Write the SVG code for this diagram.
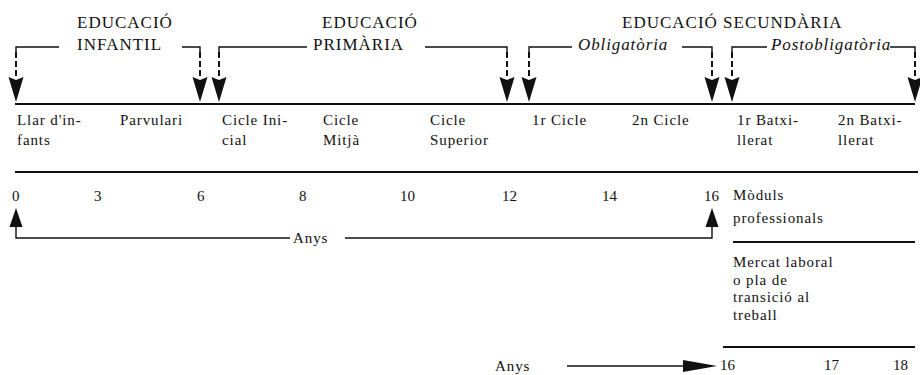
<svg xmlns="http://www.w3.org/2000/svg" xmlns:xlink="http://www.w3.org/1999/xlink" width="920" height="375" viewBox="0 0 920 375">
  <style>
    text { font-family: "Liberation Serif", "Times New Roman", serif; fill: #111; }
    .title { font-size: 17px; letter-spacing: 1px; }
    .sub { font-size: 17px; font-style: italic; letter-spacing: 0.9px; }
    .cell { font-size: 15px; letter-spacing: 0.9px; }
    .num { font-size: 15px; }
    .rule { stroke: #111; stroke-width: 2; fill: none; }
    .wire { stroke: #111; stroke-width: 1.4; fill: none; }
    .dash { stroke: #111; stroke-width: 2; fill: none; stroke-dasharray: 6 3; }
    .head { fill: #111; }
  </style>
  <defs>
    <!-- downward arrowhead, tip at origin -->
    <path id="down" d="M-7.5,-25 L0,-22 L7.5,-25 L0,0 Z"/>
    <!-- upward arrowhead, tip at origin -->
    <path id="up" d="M-6.5,19 L6.5,19 L0,0 Z"/>
  </defs>
  <rect width="920" height="375" fill="#fff"/>

  <!-- stage headings -->
  <g id="infantil">
    <text class="title" x="77" y="28">EDUCACIÓ</text>
    <text class="title" x="77" y="50" letter-spacing="1.8">INFANTIL</text>
  </g>
  <g id="primaria">
    <text class="title" x="322" y="28">EDUCACIÓ</text>
    <text class="title" x="313" y="50" letter-spacing="1.8">PRIMÀRIA</text>
  </g>
  <g id="secundaria">
    <text class="title" x="622" y="28">EDUCACIÓ SECUNDÀRIA</text>
    <text class="sub" x="578" y="50">Obligatòria</text>
    <text class="sub" x="771" y="50">Postobligatòria</text>
  </g>

  <!-- stage table -->
  <g id="table">
    <line class="rule" x1="15" y1="104" x2="915" y2="104"/>
    <line class="rule" x1="15" y1="172" x2="918" y2="172"/>
    <text class="cell" x="17" y="125">Llar d'in-</text>
    <text class="cell" x="17" y="145">fants</text>
    <text class="cell" x="120" y="125">Parvulari</text>
    <text class="cell" x="222" y="125">Cicle Ini-</text>
    <text class="cell" x="222" y="145">cial</text>
    <text class="cell" x="323" y="125">Cicle</text>
    <text class="cell" x="323" y="145">Mitjà</text>
    <text class="cell" x="430" y="125">Cicle</text>
    <text class="cell" x="430" y="145">Superior</text>
    <text class="cell" x="532" y="125">1r Cicle</text>
    <text class="cell" x="632" y="125">2n Cicle</text>
    <text class="cell" x="737" y="125">1r Batxi-</text>
    <text class="cell" x="737" y="145">llerat</text>
    <text class="cell" x="838" y="125">2n Batxi-</text>
    <text class="cell" x="838" y="145">llerat</text>
  </g>

  <!-- age scale -->
  <g id="ages">
    <text class="num" x="12" y="201">0</text>
    <text class="num" x="94" y="201">3</text>
    <text class="num" x="197" y="201">6</text>
    <text class="num" x="299" y="201">8</text>
    <text class="num" x="400" y="201">10</text>
    <text class="num" x="502" y="201">12</text>
    <text class="num" x="602" y="201">14</text>
    <text class="num" x="704" y="201">16</text>
    <text class="cell" x="733" y="200">Mòduls</text>
    <text class="cell" x="733" y="223">professionals</text>
    <text class="cell" x="495" y="371">Anys</text>
  </g>

  <g id="post16">
    <line class="rule" x1="733" y1="242" x2="915" y2="242"/>
    <text class="cell" x="733" y="267">Mercat laboral</text>
    <text class="cell" x="733" y="285">o pla de</text>
    <text class="cell" x="733" y="302">transició al</text>
    <text class="cell" x="733" y="320">treball</text>
    <line class="rule" x1="723" y1="347" x2="915" y2="347"/>
    <text class="num" x="720" y="370">16</text>
    <text class="num" x="824" y="370">17</text>
    <text class="num" x="893" y="370">18</text>
  </g>

  <!-- connectors -->
  <g id="connectors">
    <!-- Educació infantil -->
    <path class="wire" d="M59,47 H16 V52"/>
    <path class="dash" d="M16,52 V78"/>
    <use xlink:href="#down" class="head" x="16" y="102"/>
    <path class="wire" d="M182,47 H200 V52"/>
    <path class="dash" d="M200,52 V78"/>
    <use xlink:href="#down" class="head" x="200" y="102"/>

    <!-- Educació primària -->
    <path class="wire" d="M307,47 H219 V52"/>
    <path class="dash" d="M219,52 V78"/>
    <use xlink:href="#down" class="head" x="219" y="102"/>
    <path class="wire" d="M425,47 H507 V52"/>
    <path class="dash" d="M507,52 V78"/>
    <use xlink:href="#down" class="head" x="507" y="102"/>

    <!-- Obligatòria -->
    <path class="wire" d="M572,47 H529 V52"/>
    <path class="dash" d="M529,52 V78"/>
    <use xlink:href="#down" class="head" x="529" y="102"/>
    <path class="wire" d="M682,47 H712 V52"/>
    <path class="dash" d="M712,52 V78"/>
    <use xlink:href="#down" class="head" x="712" y="102"/>

    <!-- Postobligatòria -->
    <path class="wire" d="M767,47 H732 V52"/>
    <path class="dash" d="M732,52 V78"/>
    <use xlink:href="#down" class="head" x="732" y="102"/>
    <path class="wire" d="M890,47 H915 V52"/>
    <path class="dash" d="M915,52 V78"/>
    <use xlink:href="#down" class="head" x="915" y="102"/>

    <!-- compulsory age span 0-16 -->
    <use xlink:href="#up" class="head" x="16" y="208"/>
    <path class="wire" d="M16,226 V238 H290"/>
    <text class="cell" x="293" y="243" letter-spacing="1.4" font-size="16">Anys</text>
    <path class="wire" d="M345,238 H712 V226"/>
    <use xlink:href="#up" class="head" x="712" y="208"/>

    <!-- years arrow to 16 -->
    <path class="wire" d="M567,366 H690"/>
    <path class="head" d="M683,360 L717,366 L683,372 Z"/>
  </g>
</svg>
